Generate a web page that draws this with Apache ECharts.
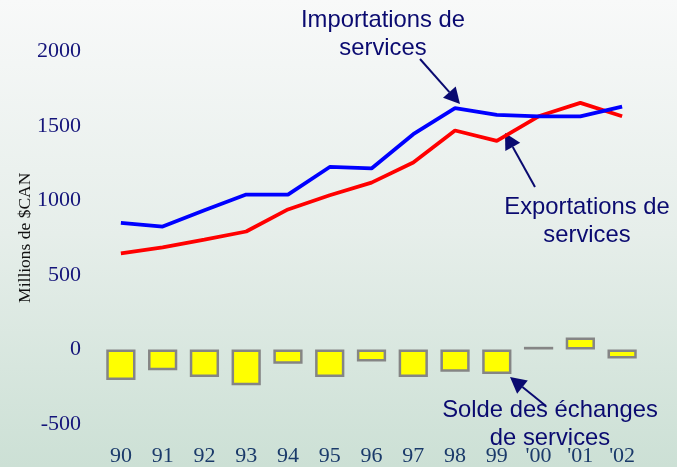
<!DOCTYPE html>
<html>
<head>
<meta charset="utf-8">
<script src="https://cdn.jsdelivr.net/npm/echarts@6/dist/echarts.min.js"></script>
<style>
  html, body { margin: 0; padding: 0; }
  #chart { width: 677px; height: 467px; }
</style>
</head>
<body>
<div id="chart"></div>
<script>
const years = ['90', '91', '92', '93', '94', '95', '96', '97', '98', '99', "'00", "'01", "'02"];
const importations = [850, 825, 935, 1040, 1040, 1225, 1215, 1445, 1620, 1575, 1565, 1565, 1630];
const exportations = [645, 685, 738, 792, 940, 1035, 1120, 1255, 1470, 1400, 1565, 1655, 1565];
const solde = [-205, -140, -185, -240, -95, -185, -80, -185, -150, -165, 18, 80, -60];
const yTicks = [-500, 0, 500, 1000, 1500, 2000];

const navy = '#0a0a70';
const chart = echarts.init(document.getElementById('chart'), null, { renderer: 'canvas' });

function arrow(x1, y1, x2, y2) {
    const ang = Math.atan2(y2 - y1, x2 - x1);
    const len = 16, half = 8.5;
    const bx = x2 - len * Math.cos(ang), by = y2 - len * Math.sin(ang);
    const px = -Math.sin(ang) * half, py = Math.cos(ang) * half;
    return [
        { type: 'line', shape: { x1: x1, y1: y1, x2: bx, y2: by }, style: { stroke: navy, lineWidth: 2 } },
        { type: 'polygon', shape: { points: [[x2, y2], [bx + px, by + py], [bx - px, by - py]] }, style: { fill: navy } },
    ];
}

const labelText = (text, x, y) => ({
    type: 'text',
    x: x, y: y,
    style: {
        text: text,
        font: '23.8px "Liberation Sans", Arial, sans-serif',
        fill: navy,
        align: 'center',
        verticalAlign: 'top',
        lineHeight: 28,
    },
});

const option = {
    backgroundColor: {
        type: 'linear', x: 0, y: 0, x2: 0, y2: 1,
        colorStops: [
            { offset: 0, color: '#f8f9f9' },
            { offset: 0.5, color: '#e6eeea' },
            { offset: 1, color: '#cce0d5' },
        ],
    },
    animation: false,
    grid: { left: 100, right: 34, top: 51.5, bottom: 43, containLabel: false, outerBoundsMode: 'none' },
    xAxis: {
        type: 'category',
        data: years,
        axisLine: { show: false },
        axisTick: { show: false },
        axisLabel: {
            margin: 21,
            fontFamily: '"Liberation Serif", "Times New Roman", serif',
            fontSize: 22,
            color: '#1a3a6a',
        },
    },
    yAxis: {
        type: 'value',
        min: yTicks[0],
        max: yTicks[yTicks.length - 1],
        interval: 500,
        name: 'Millions de $CAN',
        nameLocation: 'middle',
        nameGap: 66,
        nameMoveOverlap: false,
        nameTextStyle: {
            fontFamily: '"Liberation Serif", "Times New Roman", serif',
            fontSize: 17.5,
            color: '#111',
        },
        axisLine: { show: false },
        axisTick: { show: false },
        splitLine: { show: false },
        axisLabel: {
            margin: 19,
            formatter: (v) => String(v),
            fontFamily: '"Liberation Serif", "Times New Roman", serif',
            fontSize: 22,
            color: '#14147a',
        },
    },
    series: [
        {
            name: 'Solde des échanges de services',
            type: 'bar',
            data: solde,
            barWidth: '70%',
            itemStyle: { color: '#ffff00', borderColor: '#858585', borderWidth: 2.5 },
        },
        {
            name: 'Exportations de services',
            type: 'line',
            data: exportations,
            symbol: 'none',
            lineStyle: { color: '#ff0000', width: 3.8 },
        },
        {
            name: 'Importations de services',
            type: 'line',
            data: importations,
            symbol: 'none',
            lineStyle: { color: '#0000ff', width: 3.8 },
        },
    ],
    graphic: [
        labelText('Importations de\nservices', 383, 6),
        ...arrow(420, 59, 460, 104),
        labelText('Exportations de\nservices', 587, 193),
        ...arrow(535, 187, 505, 133),
        labelText('Solde des échanges\nde services', 550, 396),
        ...arrow(546, 406, 510, 377),
    ],
};

chart.setOption(option);
</script>
</body>
</html>
